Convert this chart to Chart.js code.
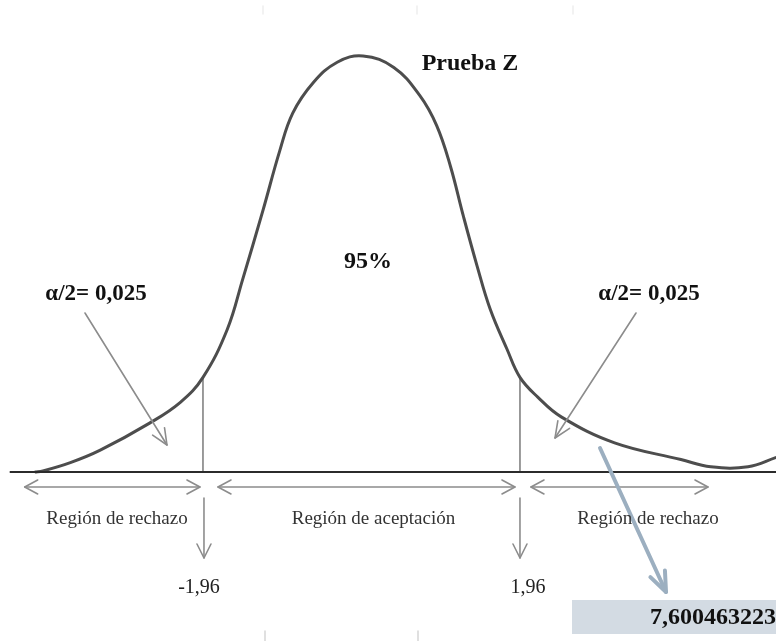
<!DOCTYPE html>
<html>
<head>
<meta charset="utf-8">
<script src="https://cdn.jsdelivr.net/npm/chart.js@4/dist/chart.umd.min.js"></script>
<style>
  html, body { margin: 0; padding: 0; background: #ffffff; }
  #wrap { width: 776px; height: 641px; position: relative; }
</style>
</head>
<body>
<div id="wrap"><canvas id="c"></canvas></div>
<script>
// ---- Data ----
const zValues = [-4.04, -3.94, -3.60, -3.23, -2.62, -2.24, -1.96, -1.66, -1.47, -1.22, -1.01, -0.85, -0.60, -0.30, 0.02, 0.40, 0.72, 0.93, 1.10, 1.26, 1.43, 1.59, 1.80, 1.96, 2.18, 2.47, 3.13, 3.95, 4.32, 4.78, 5.13];
const density = [0.000, 0.001, 0.009, 0.021, 0.047, 0.067, 0.091, 0.137, 0.185, 0.251, 0.309, 0.345, 0.374, 0.394, 0.400, 0.389, 0.362, 0.333, 0.294, 0.246, 0.198, 0.157, 0.118, 0.091, 0.072, 0.053, 0.028, 0.012, 0.005, 0.005, 0.014];
const criticalValues = [-1.96, 1.96];
const criticalLabels = ['-1,96', '1,96'];
const baselineRange = [-4.35, 5.13];
const regionLabels = ['Región de rechazo', 'Región de aceptación', 'Región de rechazo'];
const alphaLabel = 'α/2= 0,025';
const centralLabel = '95%';
const titleLabel = 'Prueba Z';
const zCalculated = '7,600463223';

// ---- Build datasets ----
const curvePts = zValues.map((z, i) => ({ x: z, y: density[i] }));
const critHeight = c => density[zValues.indexOf(c)];
const critDatasets = criticalValues.map(c => ({
  data: [{ x: c, y: 0 }, { x: c, y: critHeight(c) }],
  borderColor: '#7a7a7a', borderWidth: 1.5, pointRadius: 0, tension: 0, order: 2
}));

function arrowHead(ctx, x1, y1, x2, y2, len, half) {
  const a = Math.atan2(y2 - y1, x2 - x1);
  const bx = x2 - len * Math.cos(a), by = y2 - len * Math.sin(a);
  const nx = -Math.sin(a) * half, ny = Math.cos(a) * half;
  ctx.beginPath();
  ctx.moveTo(bx + nx, by + ny);
  ctx.lineTo(x2, y2);
  ctx.lineTo(bx - nx, by - ny);
  ctx.stroke();
}
function arrow(ctx, x1, y1, x2, y2, len, half, both) {
  ctx.beginPath(); ctx.moveTo(x1, y1); ctx.lineTo(x2, y2); ctx.stroke();
  arrowHead(ctx, x1, y1, x2, y2, len, half);
  if (both) arrowHead(ctx, x2, y2, x1, y1, len, half);
}

const annot = {
  id: 'annot',
  afterDatasetsDraw(chart) {
    const ctx = chart.ctx;
    const X = v => chart.scales.x.getPixelForValue(v);
    const Y = v => chart.scales.y.getPixelForValue(v);
    const c0 = X(criticalValues[0]), c1 = X(criticalValues[1]);
    const by = Y(0);
    ctx.save();
    ctx.lineCap = 'round'; ctx.lineJoin = 'round';

    // faint tick remnants
    ctx.strokeStyle = '#eeeeee'; ctx.lineWidth = 1.5;
    [263, 417, 573].forEach(x => { ctx.beginPath(); ctx.moveTo(x, 6); ctx.lineTo(x, 14); ctx.stroke(); });
    ctx.strokeStyle = '#d6d6d6';
    [265, 418].forEach(x => { ctx.beginPath(); ctx.moveTo(x, 631); ctx.lineTo(x, 641); ctx.stroke(); });

    // region arrows
    ctx.strokeStyle = '#8c8c8c'; ctx.lineWidth = 1.6;
    const ay = by + 15;
    arrow(ctx, X(baselineRange[0]) + 15, ay, c0 - 3, ay, 13, 7, true);
    arrow(ctx, c0 + 15, ay, c1 - 5, ay, 13, 7, true);
    arrow(ctx, c1 + 11, ay, 708, ay, 13, 7, true);

    // down arrows to critical values
    arrow(ctx, c0 + 1, by + 26, c0 + 1, by + 86, 14, 7, false);
    arrow(ctx, c1, by + 26, c1, by + 86, 14, 7, false);

    // alpha pointers
    arrow(ctx, 85, 313, 167, 445, 16, 7, false);
    arrow(ctx, 636, 313, 555, 438, 16, 7, false);

    // z result box
    ctx.fillStyle = '#d3dbe3';
    ctx.fillRect(572, 600, 776 - 572, 34);
    ctx.fillStyle = '#111';
    ctx.font = 'bold 24px "Liberation Serif", serif';
    ctx.textAlign = 'left'; ctx.textBaseline = 'middle';
    ctx.fillText(zCalculated, 650, 618);

    // blue pointer
    ctx.strokeStyle = '#9cafc0'; ctx.lineWidth = 4;
    arrow(ctx, 600, 448, 666, 592, 20, 8, false);

    // texts
    ctx.textAlign = 'center'; ctx.textBaseline = 'middle';
    ctx.fillStyle = '#111';
    ctx.font = 'bold 24px "Liberation Serif", serif';
    ctx.fillText(titleLabel, 470, 64);
    ctx.fillText(centralLabel, 368, 262);
    ctx.font = 'bold 23px "Liberation Serif", serif';
    ctx.fillText(alphaLabel, 96, 294);
    ctx.fillText(alphaLabel, 649, 294);

    ctx.fillStyle = '#333';
    ctx.font = '19px "Liberation Serif", serif';
    ctx.fillText(regionLabels[0], 117, by + 47);
    ctx.fillText(regionLabels[1], (c0 + c1) / 2 + 12, by + 47);
    ctx.fillText(regionLabels[2], 648, by + 47);

    ctx.fillStyle = '#222';
    ctx.font = '20px "Liberation Serif", serif';
    ctx.fillText(criticalLabels[0], c0 - 4, 588);
    ctx.fillText(criticalLabels[1], c1 + 8, 588);
    ctx.restore();
  }
};

new Chart(document.getElementById('c'), {
  type: 'line',
  data: {
    datasets: [
      { data: curvePts, borderColor: '#4d4d4d', borderWidth: 3, pointRadius: 0,
        tension: 0.4, order: 1 },
      { data: baselineRange.map(x => ({ x, y: 0 })), borderColor: '#2b2b2b',
        borderWidth: 2, pointRadius: 0, tension: 0, order: 0 },
      ...critDatasets
    ]
  },
  options: {
    responsive: true, maintainAspectRatio: false, animation: false,
    layout: { padding: 0 },
    plugins: { legend: { display: false }, tooltip: { enabled: false } },
    scales: {
      x: { type: 'linear', min: -4.470, max: 5.126, display: false },
      y: { type: 'linear', min: -0.1625, max: 0.4538, display: false }
    }
  },
  plugins: [annot]
});
</script>
</body>
</html>
